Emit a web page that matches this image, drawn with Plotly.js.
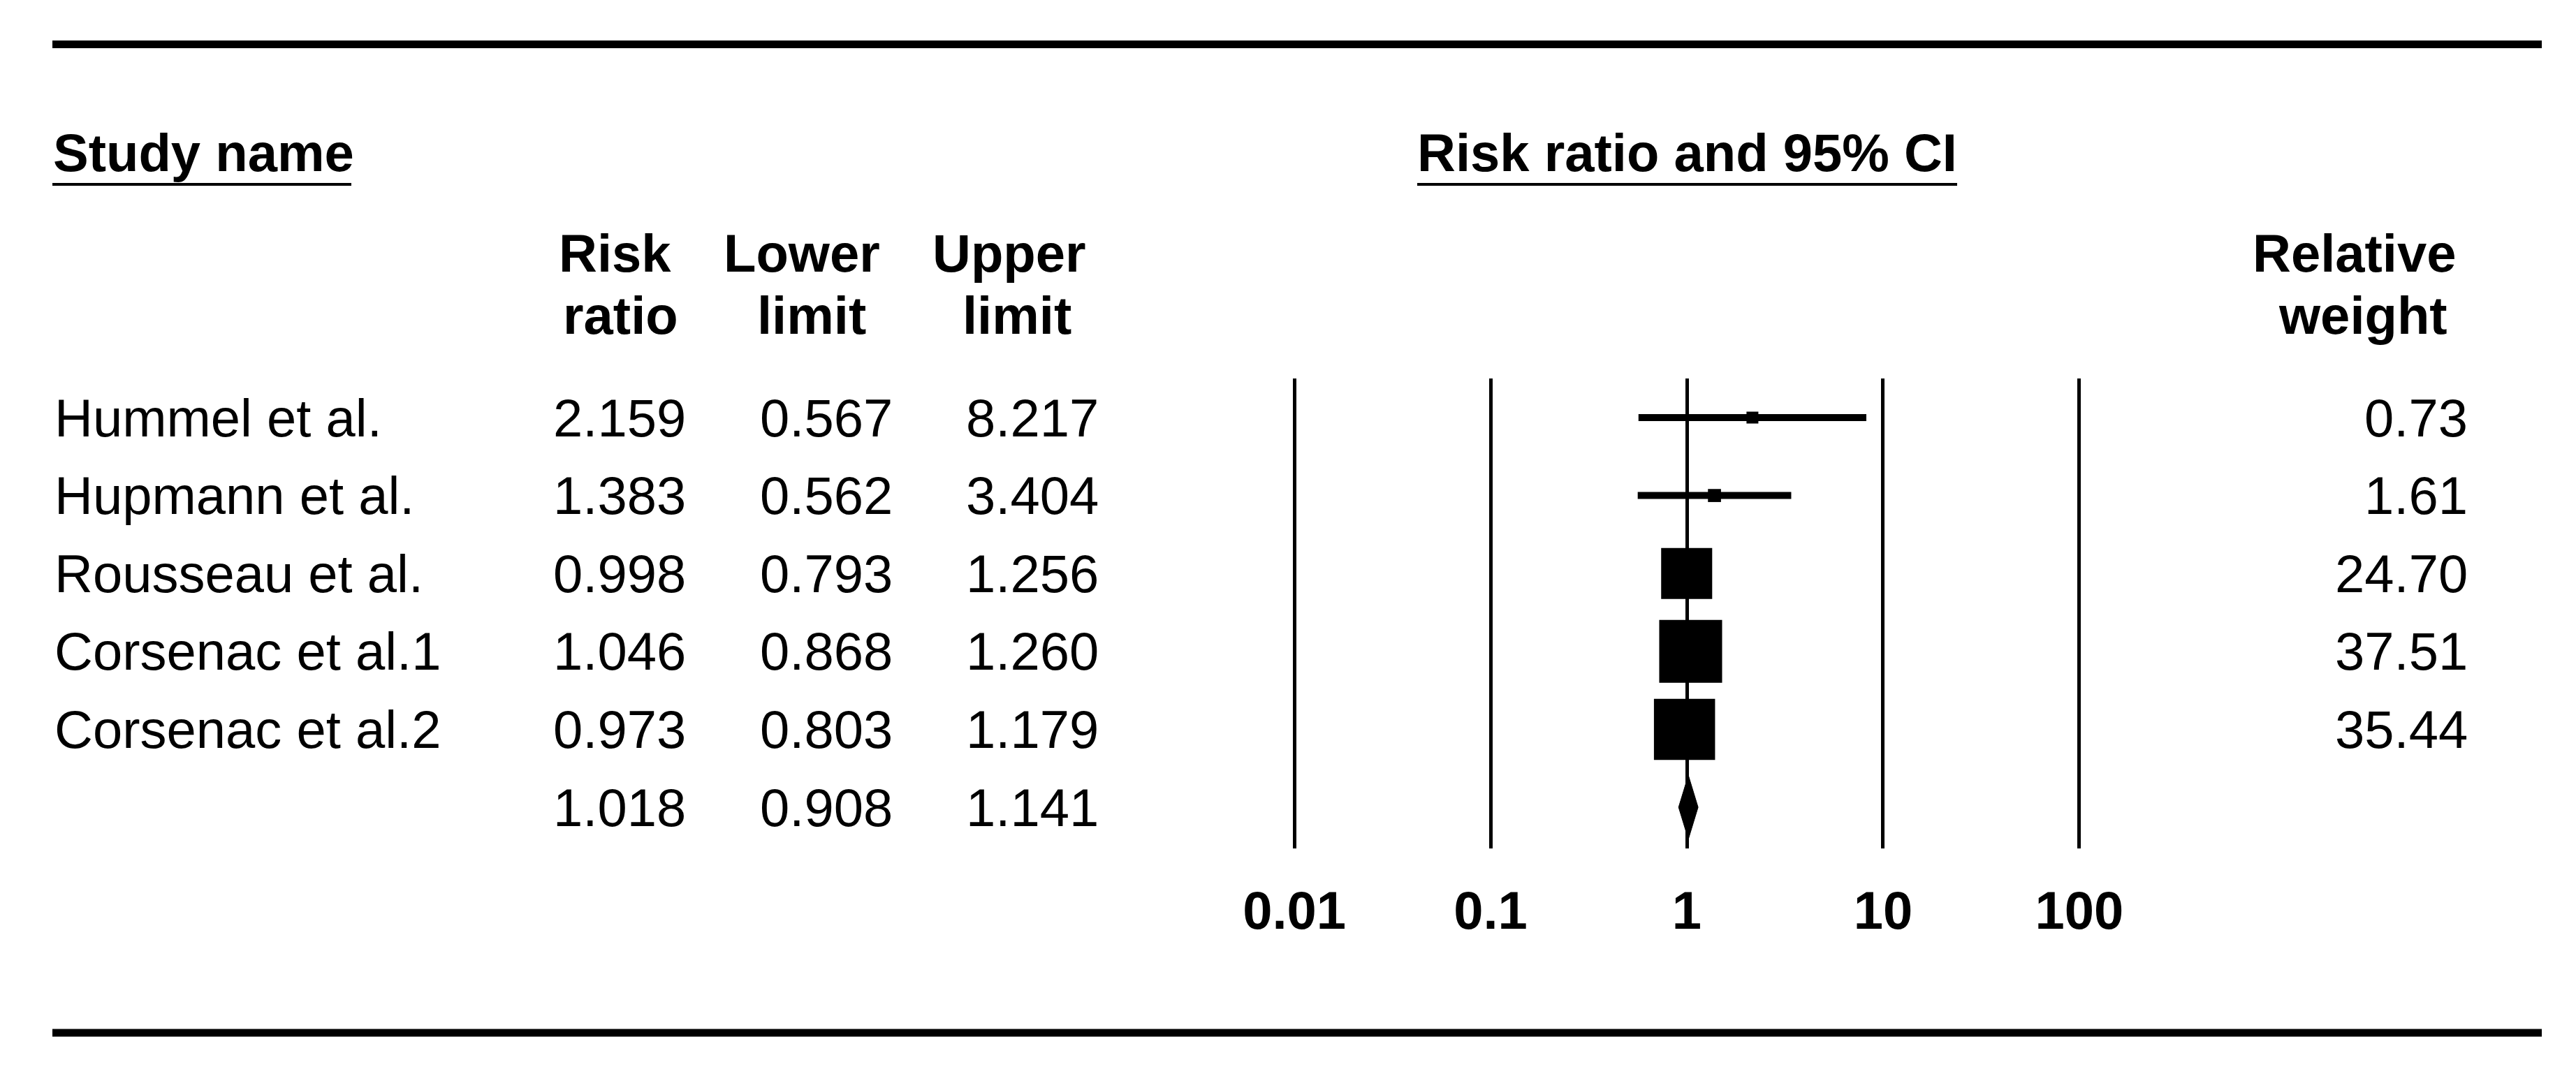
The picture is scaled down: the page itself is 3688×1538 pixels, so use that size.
<!DOCTYPE html>
<html>
<head>
<meta charset="utf-8">
<script src="https://cdn.plot.ly/plotly-3.0.1.min.js"></script>
<style>html,body{margin:0;padding:0;background:#fff;}#chart{width:3688px;height:1538px;}</style>
</head>
<body>
<div id="chart"></div>
<script>
// ---- data ----
const studies = ["Hummel et al.", "Hupmann et al.", "Rousseau et al.", "Corsenac et al.1", "Corsenac et al.2"];
const riskRatio = [2.159, 1.383, 0.998, 1.046, 0.973];
const lowerLimit = [0.567, 0.562, 0.793, 0.868, 0.803];
const upperLimit = [8.217, 3.404, 1.256, 1.260, 1.179];
const relWeight = [0.73, 1.61, 24.70, 37.51, 35.44];
const summaryRR = 1.018;
const summaryLower = 0.908;
const summaryUpper = 1.141;
const tickValues = [0.01, 0.1, 1, 10, 100];
const tickLabels = ["0.01", "0.1", "1", "10", "100"];

// ---- layout helpers ----
const W = 3688, H = 1538;
const FONT = "Liberation Sans, Arial, sans-serif";
const FS = 76;
const px = v => v / W;
const py = v => 1 - v / H;

const rows = studies.map((_, i) => i);
const summaryRow = studies.length;

const traces = [];
// CI lines
studies.forEach((s, i) => {
  traces.push({
    type: "scatter", mode: "lines",
    x: [lowerLimit[i], upperLimit[i]], y: [i, i],
    line: {color: "#000", width: 10},
    hoverinfo: "skip", showlegend: false
  });
});
// squares (size from weight)
traces.push({
  type: "scatter", mode: "markers",
  x: riskRatio, y: rows,
  marker: {symbol: "square", color: "#000", opacity: 1, line: {width: 0},
           size: relWeight.map(w => Math.max(17, 14.7 * Math.sqrt(w)))},
  hoverinfo: "skip", showlegend: false
});
// summary diamond
const dh = 0.41;
traces.push({
  type: "scatter", mode: "lines", fill: "toself", fillcolor: "#000",
  x: [summaryLower, summaryRR, summaryUpper, summaryRR, summaryLower],
  y: [summaryRow, summaryRow - dh, summaryRow, summaryRow + dh, summaryRow],
  line: {color: "#000", width: 1},
  hoverinfo: "skip", showlegend: false
});

const ann = [];
function addText(text, x, yPaperPx, anchor, bold) {
  ann.push({
    xref: "paper", yref: "paper", x: px(x), y: py(yPaperPx),
    xanchor: anchor, yanchor: "middle", showarrow: false,
    text: bold ? "<b>" + text + "</b>" : text,
    font: {family: FONT, size: FS, color: "#000"}
  });
}
function addRowText(text, x, row, anchor) {
  ann.push({
    xref: "paper", yref: "y", x: px(x), y: row,
    xanchor: anchor, yanchor: "middle", showarrow: false,
    text: text, font: {family: FONT, size: FS, color: "#000"}
  });
}
const capMid = 27;
// section headers
addText("Study name", 74, 246 - capMid, "left", true);
addText("Risk ratio and 95% CI", 2415, 246 - capMid, "center", true);
// column headers
addText("Risk", 880, 390 - capMid, "center", true);
addText("ratio", 888, 478 - capMid, "center", true);
addText("Lower", 1148, 390 - capMid, "center", true);
addText("limit", 1162, 478 - capMid, "center", true);
addText("Upper", 1445, 390 - capMid, "center", true);
addText("limit", 1456, 478 - capMid, "center", true);
addText("Relative", 3371, 390 - capMid, "center", true);
addText("weight", 3383, 478 - capMid, "center", true);

// table rows
studies.forEach((s, i) => {
  addRowText(s, 76, i, "left");
  addRowText(riskRatio[i].toFixed(3), 984, i, "right");
  addRowText(lowerLimit[i].toFixed(3), 1280, i, "right");
  addRowText(upperLimit[i].toFixed(3), 1575, i, "right");
  addRowText(relWeight[i].toFixed(2), 3535, i, "right");
});
addRowText(summaryRR.toFixed(3), 984, summaryRow, "right");
addRowText(summaryLower.toFixed(3), 1280, summaryRow, "right");
addRowText(summaryUpper.toFixed(3), 1575, summaryRow, "right");

const shapes = [
  {type: "line", xref: "paper", yref: "paper", x0: px(75), x1: px(3639), y0: py(63.5), y1: py(63.5), line: {color: "#000", width: 11}},
  {type: "line", xref: "paper", yref: "paper", x0: px(75), x1: px(3639), y0: py(1479), y1: py(1479), line: {color: "#000", width: 11}},
  {type: "line", xref: "paper", yref: "paper", x0: px(75), x1: px(503), y0: py(264), y1: py(264), line: {color: "#000", width: 4}},
  {type: "line", xref: "paper", yref: "paper", x0: px(2029), x1: px(2802), y0: py(264), y1: py(264), line: {color: "#000", width: 4}}
];

const layout = {
  width: W, height: H,
  margin: {l: 0, r: 0, t: 0, b: 0, pad: 0},
  paper_bgcolor: "#fff", plot_bgcolor: "#fff",
  showlegend: false,
  xaxis: {
    type: "log", range: [-2.1, 2.1], domain: [1825 / W, 3005 / W],
    tickvals: tickValues, ticktext: tickLabels,
    showgrid: true, gridcolor: "#000", gridwidth: 5,
    showline: false, zeroline: false, ticks: "", ticklabelstandoff: 38,
    tickfont: {family: FONT, size: FS, color: "#000", weight: "bold"},
    fixedrange: true
  },
  yaxis: {
    range: [5.5287, -0.5018], domain: [1 - 1215 / H, 1 - 542 / H],
    showgrid: false, zeroline: false, showline: false, showticklabels: false, ticks: "",
    fixedrange: true
  },
  annotations: ann,
  shapes: shapes
};

Plotly.newPlot("chart", traces, layout, {displayModeBar: false, staticPlot: true});
</script>
</body>
</html>
